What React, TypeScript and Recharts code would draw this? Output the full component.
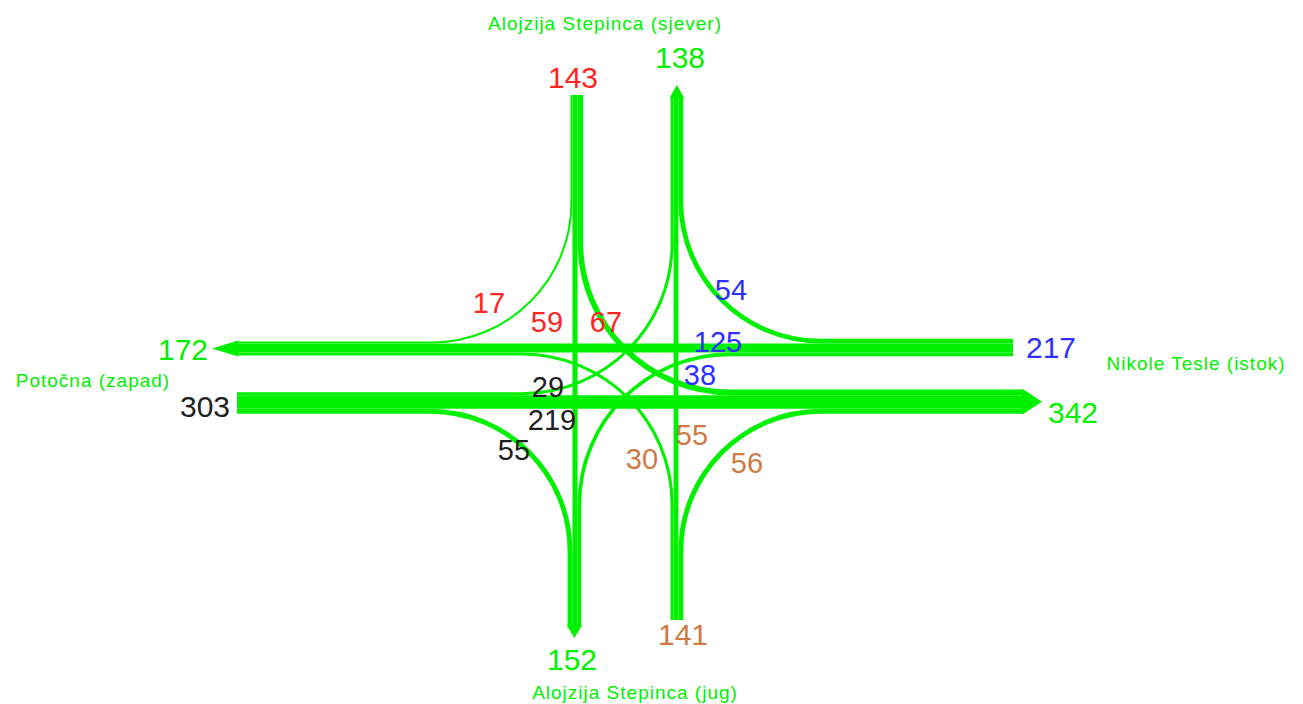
import React from 'react'
import { ComposedChart, Line, Scatter, XAxis, YAxis } from 'recharts'

// approaches in order: north, east, south, west
const APPROACH_NAMES = ['Alojzija Stepinca (sjever)', 'Nikole Tesle (istok)', 'Alojzija Stepinca (jug)', 'Potočna (zapad)']
const IN_TOTALS = [143, 217, 141, 303]
const OUT_TOTALS = [138, 342, 152, 172]
// turning volumes per approach
const RIGHT = [17, 54, 56, 55]
const THROUGH = [59, 125, 55, 219]
const LEFT = [67, 38, 30, 29]

const APPROACH_COLORS = ['#ff2424', '#2f2fff', '#cf7a45', '#202020']
const GREEN = '#00f000'
const FONT = '"Liberation Sans", Arial, sans-serif'

// lane geometry (inbound lane of each approach): direction, position, start and exit end
const LANE_DIR = [[0, 1], [-1, 0], [0, -1], [1, 0]]
const LANE_POS = [575, 348, 676, 402]
const LANE_START = [95, 1013, 620, 237]
const LANE_END = [625, 238, 98, 1022]
const ARROW_LEN = [13, 26, 13, 20]
const RIGHT_R = 140
const LEFT_R = 150
const K = 0.5523

// label positions (centre x, baseline y)
const NAME_POS = [[605, 30], [1196, 370], [635, 699], [93, 387]]
const IN_POS = [[573, 88], [1051, 358], [683, 645], [205, 417]]
const OUT_POS = [[680, 68], [1073, 423], [572, 670], [183, 360]]
const RIGHT_POS = [[489, 313], [731, 300], [747, 473], [514, 460]]
const THROUGH_POS = [[547, 332], [718, 352], [692, 445], [552, 430]]
const LEFT_POS = [[606, 332], [700, 385], [642, 469], [548, 397]]

const W = 1303
const H = 704

const width = (v: number) => 0.24 * Math.pow(v, 0.75)

// straight lanes joined by quarter-ellipse corners
function cornerCurve(radius: number) {
  return (context: any) => {
    let pts: number[][] = []
    return {
      areaStart() {},
      areaEnd() {},
      lineStart() { pts = [] },
      point(x: number, y: number) { pts.push([x, y]) },
      lineEnd() {
        if (!pts.length) return
        context.moveTo(pts[0][0], pts[0][1])
        for (let i = 1; i < pts.length; i++) {
          const [cx, cy] = pts[i]
          if (i === pts.length - 1) { context.lineTo(cx, cy); break }
          const [px, py] = pts[i - 1]
          const [nx, ny] = pts[i + 1]
          const d1 = Math.hypot(cx - px, cy - py)
          const d2 = Math.hypot(nx - cx, ny - cy)
          const a = Math.min(radius, d1)
          const b = Math.min(radius, d2)
          const ux = (cx - px) / d1, uy = (cy - py) / d1
          const vx = (nx - cx) / d2, vy = (ny - cy) / d2
          const sx = cx - ux * a, sy = cy - uy * a
          const ex = cx + vx * b, ey = cy + vy * b
          context.lineTo(sx, sy)
          context.bezierCurveTo(sx + ux * a * K, sy + uy * a * K, ex - vx * b * K, ey - vy * b * K, ex, ey)
        }
      },
    }
  }
}

function lanePoint(j: number, along: number, off: number) {
  const [dx, dy] = LANE_DIR[j]
  const nx = -dy, ny = dx
  if (dx === 0) return { x: LANE_POS[j] + off * nx, y: along }
  return { x: along, y: LANE_POS[j] + off * ny }
}

type Move = { key: string; from: number; to: number; kind: 'right' | 'through' | 'left'; v: number }

const moves: Move[] = [0, 1, 2, 3].flatMap((i) => [
  { key: `r${i}`, from: i, to: (i + 1) % 4, kind: 'right' as const, v: RIGHT[i] },
  { key: `t${i}`, from: i, to: i, kind: 'through' as const, v: THROUGH[i] },
  { key: `l${i}`, from: i, to: (i + 3) % 4, kind: 'left' as const, v: LEFT[i] },
])

function movePoints(m: Move) {
  const w = width(m.v)
  const side = m.kind === 'right' ? 1 : m.kind === 'left' ? -1 : 0
  const inOff = side * (width(THROUGH[m.from]) + w) / 2
  const outOff = side * (width(THROUGH[m.to]) + w) / 2
  const start = lanePoint(m.from, LANE_START[m.from], inOff)
  const end = lanePoint(m.to, LANE_END[m.to], outOff)
  if (m.kind === 'through') return [start, end]
  const vertical = LANE_DIR[m.from][0] === 0
  const corner = vertical ? { x: start.x, y: end.y } : { x: end.x, y: start.y }
  return [start, corner, end]
}

const arrows = [0, 1, 2, 3].map((j) => {
  const right = width(THROUGH[j]) / 2 + width(RIGHT[(j + 3) % 4])
  const left = -(width(THROUGH[j]) / 2 + width(LEFT[(j + 1) % 4]))
  const p = lanePoint(j, LANE_END[j], (right + left) / 2)
  return { ...p, lane: j, half: (right - left) / 2 + 1 }
})

type Label = { x: number; y: number; text: string; color: string; size: number; spacing: number }

const labels: Label[] = [
  ...APPROACH_NAMES.map((t, i) => ({ x: NAME_POS[i][0], y: NAME_POS[i][1], text: t, color: GREEN, size: 19, spacing: 1 })),
  ...IN_TOTALS.map((v, i) => ({ x: IN_POS[i][0], y: IN_POS[i][1], text: String(v), color: APPROACH_COLORS[i], size: 30, spacing: 0 })),
  ...OUT_TOTALS.map((v, i) => ({ x: OUT_POS[i][0], y: OUT_POS[i][1], text: String(v), color: GREEN, size: 30, spacing: 0 })),
  ...RIGHT.map((v, i) => ({ x: RIGHT_POS[i][0], y: RIGHT_POS[i][1], text: String(v), color: APPROACH_COLORS[i], size: 29, spacing: 0 })),
  ...THROUGH.map((v, i) => ({ x: THROUGH_POS[i][0], y: THROUGH_POS[i][1], text: String(v), color: APPROACH_COLORS[i], size: 29, spacing: 0 })),
  ...LEFT.map((v, i) => ({ x: LEFT_POS[i][0], y: LEFT_POS[i][1], text: String(v), color: APPROACH_COLORS[i], size: 29, spacing: 0 })),
]

const ArrowHead = (props: any) => {
  const { cx, cy, payload } = props
  const [dx, dy] = LANE_DIR[payload.lane]
  const len = ARROW_LEN[payload.lane]
  const h = payload.half
  const nx = -dy, ny = dx
  const pts = [
    [cx + nx * h, cy + ny * h],
    [cx + dx * len, cy + dy * len],
    [cx - nx * h, cy - ny * h],
  ]
  return <polygon points={pts.map((p) => p.join(',')).join(' ')} fill={GREEN} />
}

const TextMark = (props: any) => {
  const { cx, cy, payload } = props
  return (
    <text x={cx} y={cy} textAnchor="middle" fill={payload.color} fontSize={payload.size}
      fontFamily={FONT} letterSpacing={payload.spacing}>
      {payload.text}
    </text>
  )
}

export default function App() {
  return (
    <div style={{ position: 'absolute', left: 0, top: 0, width: W, height: H, background: '#fff' }}>
      <ComposedChart width={W} height={H} margin={{ top: 0, right: 0, bottom: 0, left: 0 }}>
        <XAxis type="number" dataKey="x" domain={[0, W]} hide allowDataOverflow />
        <YAxis type="number" dataKey="y" domain={[0, H]} reversed hide allowDataOverflow />
        {moves.map((m) => (
          <Line
            key={m.key}
            data={movePoints(m)}
            dataKey="y"
            type={cornerCurve(m.kind === 'left' ? LEFT_R : RIGHT_R) as any}
            stroke={GREEN}
            strokeWidth={width(m.v)}
            strokeLinecap="butt"
            dot={false}
            activeDot={false}
            isAnimationActive={false}
          />
        ))}
        <Scatter data={arrows} shape={ArrowHead} isAnimationActive={false} />
        <Scatter data={labels} shape={TextMark} isAnimationActive={false} />
      </ComposedChart>
    </div>
  )
}
